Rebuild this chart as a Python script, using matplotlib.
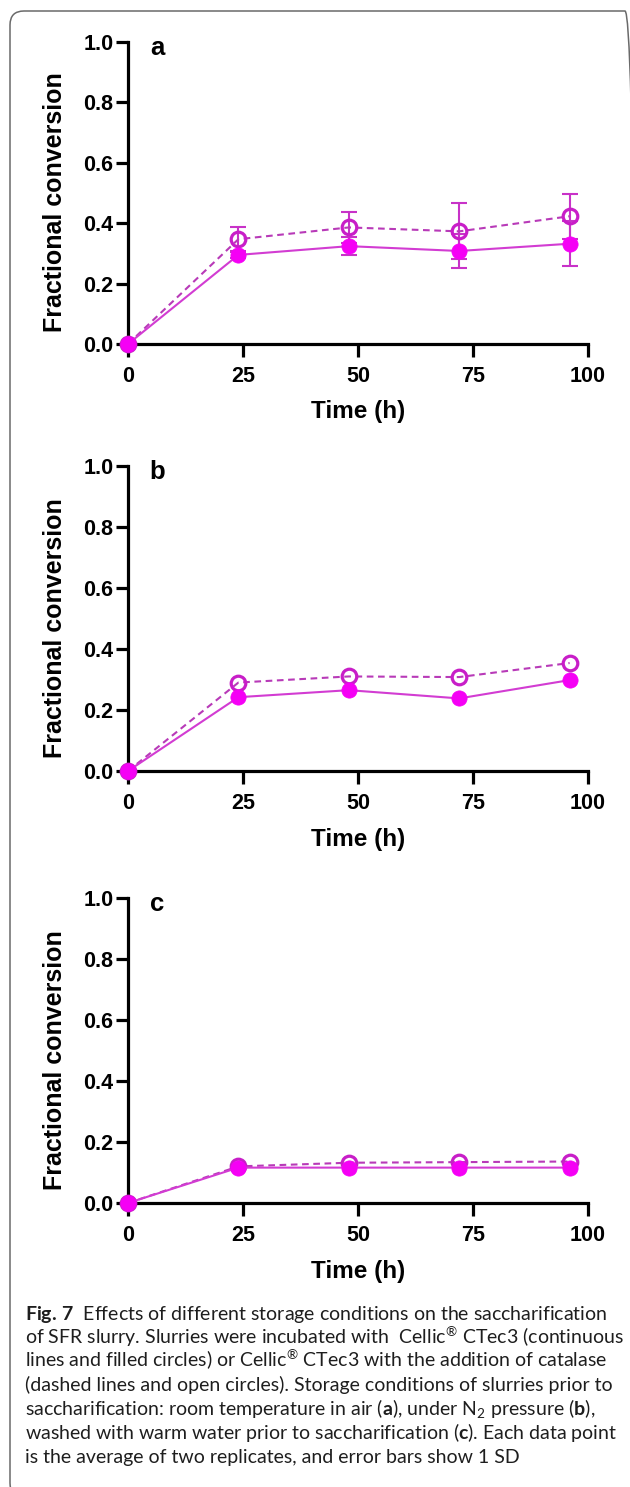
import matplotlib
matplotlib.use("Agg")
import matplotlib.pyplot as plt
from matplotlib.patches import FancyBboxPatch

plt.rcParams['mathtext.fontset'] = 'custom'
plt.rcParams['mathtext.rm'] = 'Lato'
plt.rcParams['mathtext.bf'] = 'Lato:bold'
plt.rcParams['mathtext.it'] = 'Lato:italic'

# ---- data ----
time_h = [0, 24, 48, 72, 96]
a_cat_mean = [0.0, 0.347, 0.386, 0.373, 0.423]   # CTec3 + catalase (open, dashed)
a_cat_sd = [0.0, 0.040, 0.050, 0.093, 0.075]
a_ctec_mean = [0.0, 0.295, 0.324, 0.308, 0.332]  # CTec3 (filled, solid)
a_ctec_sd = [0.0, 0.010, 0.029, 0.057, 0.074]

b_cat_mean = [0.0, 0.290, 0.310, 0.308, 0.354]
b_ctec_mean = [0.0, 0.242, 0.265, 0.238, 0.298]

c_cat_mean = [0.0, 0.120, 0.132, 0.134, 0.136]
c_ctec_mean = [0.0, 0.116, 0.116, 0.116, 0.116]

panel_letters = ['a', 'b', 'c']
x_ticks = [0, 25, 50, 75, 100]
y_ticks = [0.0, 0.2, 0.4, 0.6, 0.8, 1.0]
x_label = 'Time (h)'
y_label = 'Fractional conversion'

caption_lines = [
    r'$\mathbf{Fig.\,7}$  Effects of different storage conditions on the saccharification',
    r'of SFR slurry. Slurries were incubated with  Cellic$^{\mathrm{®}}$ CTec3 (continuous',
    r'lines and filled circles) or Cellic$^{\mathrm{®}}$ CTec3 with the addition of catalase',
    r'(dashed lines and open circles). Storage conditions of slurries prior to',
    r'saccharification: room temperature in air ($\mathbf{a}$), under N$_{\mathrm{2}}$ pressure ($\mathbf{b}$),',
    r'washed with warm water prior to saccharification ($\mathbf{c}$). Each data point',
    r'is the average of two replicates, and error bars show 1 SD',
]

W, H = 630, 1487
fig = plt.figure(figsize=(W / 100, H / 100), dpi=100)
fig.patch.set_facecolor('white')

# rounded frame (partly off canvas)
frame = FancyBboxPatch((0.10, -0.10), 6.29, 14.86,
                       boxstyle='round,pad=0,rounding_size=0.14',
                       transform=fig.dpi_scale_trans, fill=False,
                       edgecolor='#6a6a6a', linewidth=1.1)
fig.patches.append(frame)

fill_col = '#F500F5'
solid_line = '#D23CD2'
dash_line = '#B83AB8'
open_edge = '#C81EC8'
err_col = '#C832C8'

axfont = dict(family='Liberation Sans', weight='bold')

def px_axes(top_px, bottom_px, left_px=128, right_px=588):
    return [left_px / W, 1 - bottom_px / H, (right_px - left_px) / W, (bottom_px - top_px) / H]

panels = [
    (px_axes(42, 344), a_cat_mean, a_cat_sd, a_ctec_mean, a_ctec_sd),
    (px_axes(466, 771), b_cat_mean, None, b_ctec_mean, None),
    (px_axes(898, 1203), c_cat_mean, None, c_ctec_mean, None),
]

for (pos, cat_m, cat_sd, ctec_m, ctec_sd), letter in zip(panels, panel_letters):
    ax = fig.add_axes(pos)
    ax.set_xlim(0, 100)
    ax.set_ylim(0, 1.0)
    for s in ['top', 'right']:
        ax.spines[s].set_visible(False)
    for s in ['left', 'bottom']:
        ax.spines[s].set_linewidth(2.3)
        ax.spines[s].set_color('black')
    ax.set_xticks(x_ticks)
    ax.set_yticks(y_ticks)
    ax.set_xticklabels([str(t) for t in x_ticks])
    ax.set_yticklabels([f'{t:.1f}' for t in y_ticks])
    ax.tick_params(axis='both', direction='out', length=9, width=2.3, color='black')
    ax.tick_params(axis='x', pad=6.5)
    ax.tick_params(axis='y', pad=1.5)
    for lab in ax.get_xticklabels() + ax.get_yticklabels():
        lab.set_fontfamily('Liberation Sans')
        lab.set_fontweight('bold')
        lab.set_fontsize(15.5)

    ax.set_xlabel(x_label, fontsize=17.5, **axfont)
    ax.set_ylabel(y_label, fontsize=18, **axfont)
    ax.xaxis.set_label_coords(0.5, -0.225)
    ax.xaxis.label.set_va('center')
    ax.yaxis.set_label_coords(-0.159, 0.47)
    ax.yaxis.label.set_va('center')

    # error bars
    if cat_sd is not None:
        ax.errorbar(time_h, cat_m, yerr=cat_sd, fmt='none', ecolor=err_col,
                    elinewidth=1.5, capsize=6, capthick=1.5, zorder=2, clip_on=False)
    if ctec_sd is not None:
        ax.errorbar(time_h, ctec_m, yerr=ctec_sd, fmt='none', ecolor=err_col,
                    elinewidth=1.5, capsize=6, capthick=1.5, zorder=2, clip_on=False)

    ax.plot(time_h, cat_m, linestyle=(0, (3.2, 2.2)), color=dash_line, linewidth=1.5,
            marker='o', markersize=10.5, markerfacecolor='none',
            markeredgecolor=open_edge, markeredgewidth=2.3, zorder=3, clip_on=False)
    ax.plot(time_h, ctec_m, linestyle='-', color=solid_line, linewidth=1.5,
            marker='o', markersize=11, markerfacecolor=fill_col,
            markeredgecolor=fill_col, markeredgewidth=0.5, zorder=4, clip_on=False)

    ax.text(6.3, 0.98, letter, fontsize=18.5, ha='center', va='center', **axfont)

# caption
cap_size = 14.0
y0 = 1320
for i, line in enumerate(caption_lines):
    fig.text(25 / W, 1 - (y0 + 23.8 * i) / H, line, fontsize=cap_size,
             family='Lato', color='#1e1e1e', ha='left', va='baseline')

fig.savefig('out.png', dpi=100, facecolor='white')
